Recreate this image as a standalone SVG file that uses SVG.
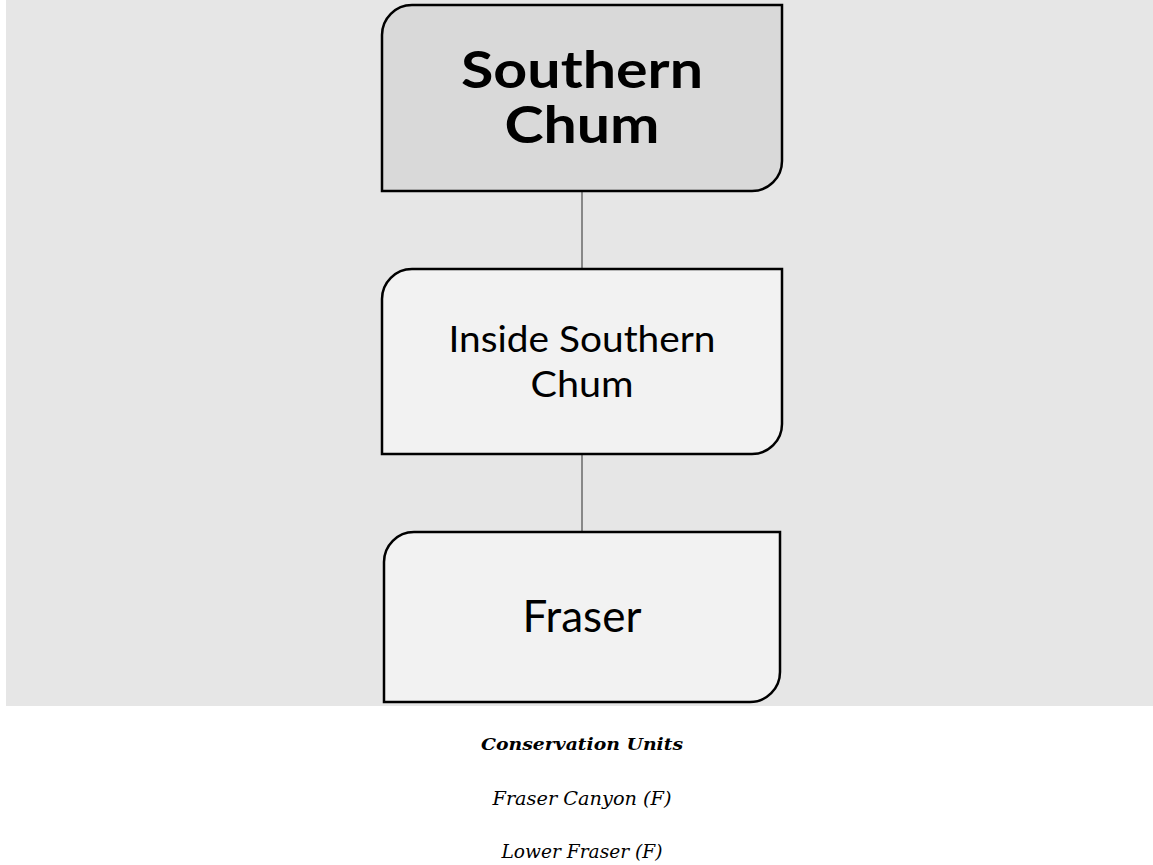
<svg xmlns="http://www.w3.org/2000/svg" width="1153" height="865" viewBox="0 0 1153 865">
<style>
.box{stroke:#000;stroke-width:2.5}
.top{fill:#d9d9d9}
.sub{fill:#f2f2f2}
.t{font-family:Lato,"Open Sans","Liberation Sans",sans-serif;text-anchor:middle;fill:#000}
.cap{font-family:"DejaVu Serif","Liberation Serif",serif;font-style:italic;text-anchor:middle;fill:#000}
.conn line{stroke:#888;stroke-width:2}
</style>
<rect x="0" y="0" width="1153" height="865" fill="#fff"/>
<rect x="6" y="0" width="1147" height="706" fill="#e6e6e6"/>
<g class="conn">
<line x1="582" y1="191" x2="582" y2="269"/>
<line x1="582" y1="454" x2="582" y2="532"/>
</g>
<g id="node-southern-chum">
<path class="box top" d="M382,191 V35 A30,30 0 0 1 412,5 H782 V161 A30,30 0 0 1 752,191 Z"/>
<text class="t" x="582" y="88" font-size="51" font-weight="bold" textLength="242" lengthAdjust="spacingAndGlyphs">Southern</text>
<text class="t" x="582" y="143" font-size="51" font-weight="bold" textLength="155" lengthAdjust="spacingAndGlyphs">Chum</text>
</g>
<g id="node-inside-southern-chum">
<path class="box sub" d="M382,454 V299 A30,30 0 0 1 412,269 H782 V424 A30,30 0 0 1 752,454 Z"/>
<text class="t" x="582" y="352" font-size="37" textLength="267" lengthAdjust="spacingAndGlyphs">Inside Southern</text>
<text class="t" x="582" y="397" font-size="37" textLength="103" lengthAdjust="spacingAndGlyphs">Chum</text>
</g>
<g id="node-fraser">
<path class="box sub" d="M384,702 V562 A30,30 0 0 1 414,532 H780 V672 A30,30 0 0 1 750,702 Z"/>
<text class="t" x="582" y="632" font-size="44">Fraser</text>
</g>
<g id="caption">
<text class="cap" x="582" y="750" font-size="17.5" font-weight="bold" textLength="202" lengthAdjust="spacingAndGlyphs">Conservation Units</text>
<text class="cap" x="582" y="805" font-size="18" textLength="179" lengthAdjust="spacingAndGlyphs">Fraser Canyon (F)</text>
<text class="cap" x="582" y="858" font-size="18" textLength="161" lengthAdjust="spacingAndGlyphs">Lower Fraser (F)</text>
</g>
</svg>
